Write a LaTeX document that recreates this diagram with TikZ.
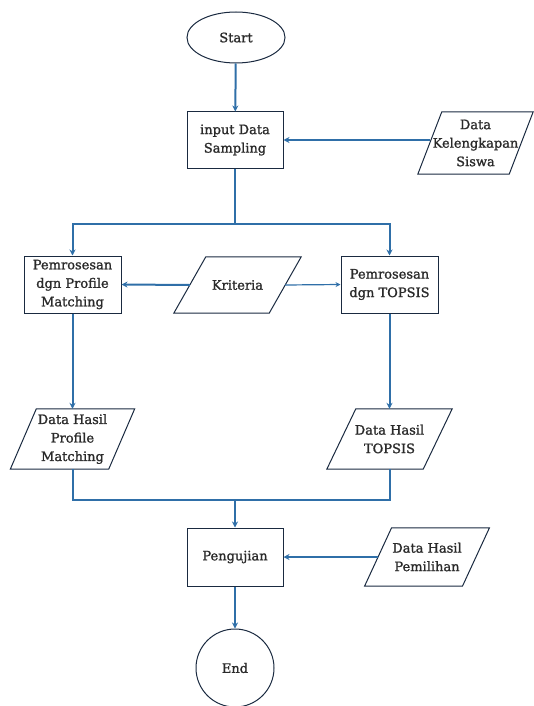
\documentclass[tikz,border=0pt]{standalone}
\usepackage{fontspec}
\setmainfont[FakeBold=1.3,AutoFakeBold=1.3]{DejaVu Serif}
\usetikzlibrary{arrows.meta,calc,shapes.geometric}
\definecolor{flow}{HTML}{2F6FA8}
\definecolor{edgec}{HTML}{1A2A40}
\definecolor{txt}{HTML}{2A2A2A}
\newcommand\pgram[2]{\draw[ioline] ([xshift=-#2]#1.south west) -- ([xshift=#2]#1.north west) -- ([xshift=#2]#1.north east) -- ([xshift=-#2]#1.south east) -- cycle;}
\begin{document}
\begin{tikzpicture}[x=1pt,y=-1pt,
  every node/.style={font=\fontsize{13}{18.5}\selectfont\bfseries, align=center, text=txt, inner sep=0pt},
  proc/.style={draw=edgec, line width=1pt, rectangle},
  io/.style={rectangle},
  ioline/.style={draw=edgec, line width=1pt, line join=miter},
  term/.style={draw=edgec, line width=1pt, ellipse},
  flowline/.style={draw=flow, line width=2pt},
  arr/.style={flowline, -{Stealth[length=6pt,width=6pt]}},
  arrthin/.style={draw=flow, line width=1.2pt, -{Stealth[length=5pt,width=5pt]}}
]
\useasboundingbox (0,0) rectangle (533,706);

\node[term, minimum width=98pt, minimum height=51pt] (start) at (236,37.5) {Start};
\node[proc, minimum width=96pt, minimum height=56pt] (inp) at (235,140) {input Data\\Sampling};
\node[io, minimum width=91pt, minimum height=62pt] (dk) at (475.5,143) {Data\\Kelengkapan\\Siswa};
\pgram{dk}{12pt}
\coordinate (split) at (235,224);
\node[proc, minimum width=97pt, minimum height=57pt] (pm) at (72.5,284.5) {Pemrosesan\\dgn Profile\\Matching};
\node[io, minimum width=95pt, minimum height=56pt] (kr) at (237.5,285) {Kriteria};
\pgram{kr}{16pt}
\node[proc, minimum width=97pt, minimum height=57pt] (tp) at (389.5,284.5) {Pemrosesan\\dgn TOPSIS};
\node[io, minimum width=98pt, minimum height=60pt] (dpm) at (72.5,439) {Data Hasil\\Profile\\Matching};
\pgram{dpm}{13pt}
\node[io, minimum width=96pt, minimum height=60pt] (dtp) at (389.5,439) {Data Hasil\\TOPSIS};
\pgram{dtp}{14.5pt}
\coordinate (merge) at (235,500);
\node[proc, minimum width=96pt, minimum height=58pt] (uji) at (235,557) {Pengujian};
\node[io, minimum width=97.5pt, minimum height=58pt] (dhp) at (427,557) {Data Hasil\\Pemilihan};
\pgram{dhp}{13.5pt}
\node[term, circle, minimum size=78pt] (end) at (235,668) {End};

\draw[arr] (start) -- (inp);
\draw[arr] (dk.west |- inp.east) -- (inp.east);
\draw[flowline] (inp.south) -- (split);
\draw[arr] (split) -| (pm.north);
\draw[arr] (split) -| (tp.north);
\draw[arr] (kr.west) -- (pm.east);
\draw[arrthin] (kr.east) -- (tp.west);
\draw[arr] (pm.south) -- (dpm.north);
\draw[arr] (tp.south) -- (dtp.north);
\draw[flowline] (dpm.south) |- (merge);
\draw[flowline] (dtp.south) |- (merge);
\draw[arr] (merge) -- (uji.north);
\draw[arr] (dhp.west) -- (uji.east);
\draw[arr] (uji) -- (end);
\end{tikzpicture}
\end{document}
